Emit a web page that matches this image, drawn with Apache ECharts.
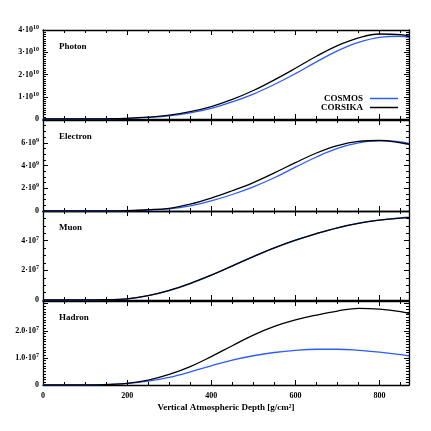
<!DOCTYPE html>
<html>
<head>
<meta charset="utf-8">
<script src="https://cdn.jsdelivr.net/npm/echarts@6/dist/echarts.min.js"></script>
<style>
  html, body { margin: 0; padding: 0; background: #fff; }
</style>
</head>
<body>
<div id="chart" style="width: 431px; height: 431px"></div>
<script>
// depth in g/cm^2
const depth = [0, 50, 100, 150, 200, 250, 300, 350, 400, 450, 500, 550, 600, 650, 700, 750, 800, 850, 870];

// Photon (x1e10)
const photonCorsika = [0, 0, 0, 0.01, 0.03, 0.08, 0.17, 0.33, 0.56, 0.88, 1.28, 1.76, 2.28, 2.82, 3.30, 3.65, 3.82, 3.79, 3.72];
const photonCosmos  = [0, 0, 0, 0.01, 0.03, 0.07, 0.14, 0.28, 0.48, 0.77, 1.12, 1.55, 2.04, 2.57, 3.06, 3.44, 3.67, 3.72, 3.66];

// Electron (x1e9)
const electronCorsika = [0, 0, 0, 0.01, 0.04, 0.11, 0.24, 0.60, 1.13, 1.78, 2.50, 3.35, 4.25, 5.10, 5.75, 6.12, 6.20, 6.00, 5.85];
const electronCosmos  = [0, 0, 0, 0.01, 0.03, 0.08, 0.18, 0.45, 0.89, 1.45, 2.12, 2.92, 3.85, 4.75, 5.50, 5.98, 6.18, 6.08, 5.95];

// Muon (x1e7)
const muonCorsika = [0, 0, 0, 0.02, 0.08, 0.30, 0.65, 1.12, 1.68, 2.30, 2.93, 3.52, 4.03, 4.48, 4.87, 5.17, 5.38, 5.52, 5.56];
const muonCosmos  = [0, 0, 0, 0.02, 0.08, 0.29, 0.64, 1.11, 1.67, 2.29, 2.92, 3.51, 4.02, 4.48, 4.87, 5.18, 5.39, 5.54, 5.58];

// Hadron (x1e7)
const hadronCorsika = [0, 0, 0, 0.01, 0.06, 0.18, 0.39, 0.68, 1.05, 1.45, 1.84, 2.16, 2.40, 2.58, 2.73, 2.83, 2.80, 2.71, 2.64];
const hadronCosmos  = [0, 0, 0, 0.02, 0.06, 0.14, 0.28, 0.48, 0.71, 0.92, 1.08, 1.20, 1.28, 1.32, 1.32, 1.28, 1.21, 1.12, 1.07];

const xTicks = [0, 200, 400, 600, 800];

const FONT = "Liberation Serif";
const BLUE = "#2b5cff";
const BLACK = "#000";

let myChart = echarts.init(document.getElementById("chart"));

// 每个面板: 名称, 指数, 纵轴最大值, 刻度间隔, 最大标注值
const panels = [
  { name: "Photon",   exp: 10, max: 4,   interval: 1, minor: 10, dec: 0, labelMax: 4, top: 30,  height: 89, corsika: photonCorsika, cosmos: photonCosmos },
  { name: "Electron", exp: 9,  max: 8,   interval: 2, minor: 4,  dec: 0, labelMax: 6, top: 120, height: 91, corsika: electronCorsika, cosmos: electronCosmos },
  { name: "Muon",     exp: 7,  max: 6,   interval: 2, minor: 4,  dec: 0, labelMax: 4, top: 211, height: 89, corsika: muonCorsika, cosmos: muonCosmos },
  { name: "Hadron",   exp: 7,  max: 3.1, interval: 1, minor: 10, dec: 1, labelMax: 2, top: 301, height: 84, corsika: hadronCorsika, cosmos: hadronCosmos },
];

const grids = [], xAxes = [], yAxes = [], series = [], titles = [];

const tickStyle = { color: BLACK, width: 1 };

panels.forEach((p, i) => {
  grids.push({ left: 43, right: 22, top: p.top, height: p.height });
  const last = i === panels.length - 1;

  // 下方x轴
  xAxes.push({
    type: "value", gridIndex: i, min: 0, max: 870, interval: 200,
    axisLine: { onZero: false, lineStyle: { color: BLACK, width: 1.3 } },
    axisTick: { show: true, inside: true, length: 5, lineStyle: tickStyle },
    minorTick: { show: true, splitNumber: 4, length: 3, lineStyle: tickStyle },
    splitLine: { show: false },
    axisLabel: {
      show: last, margin: 7, fontFamily: FONT, fontWeight: "bold", fontSize: 8, color: BLACK,
      formatter: (v) => (xTicks.indexOf(v) >= 0 ? String(v) : ""),
    },
    name: last ? "Vertical Atmospheric Depth [g/cm²]" : "",
    nameLocation: "middle", nameGap: 18,
    nameTextStyle: { fontFamily: FONT, fontWeight: "bold", fontSize: 9, color: BLACK },
  });
  // 上方x轴(只画刻度)
  xAxes.push({
    type: "value", gridIndex: i, position: "top", min: 0, max: 870, interval: 200,
    axisLine: { onZero: false, lineStyle: { color: BLACK, width: 1.3 } },
    axisTick: { show: true, inside: true, length: 5, lineStyle: tickStyle },
    minorTick: { show: true, splitNumber: 4, length: 3, lineStyle: tickStyle },
    splitLine: { show: false },
    axisLabel: { show: false },
  });

  const scale = Math.pow(10, p.exp);
  const labelFmt = (v) => {
    const m = v / scale;
    if (Math.abs(m) < 1e-9) return "0";
    if (Math.abs(m / p.interval - Math.round(m / p.interval)) > 1e-6) return "";
    if (m > p.labelMax + 1e-6) return "";
    return "{m|" + m.toFixed(p.dec) + "·10}{e|" + p.exp + "}";
  };

  // 左y轴
  yAxes.push({
    type: "value", gridIndex: i, min: 0, max: p.max * scale, interval: p.interval * scale,
    axisLine: { show: true, onZero: false, lineStyle: { color: BLACK, width: 1.3 } },
    axisTick: { show: true, inside: true, length: 5, lineStyle: tickStyle },
    minorTick: { show: true, splitNumber: p.minor, length: 3, lineStyle: tickStyle },
    splitLine: { show: false },
    axisLabel: {
      margin: 4, fontFamily: FONT, fontWeight: "bold", fontSize: 8, color: BLACK,
      formatter: labelFmt,
      rich: {
        m: { fontFamily: FONT, fontWeight: "bold", fontSize: 8, color: BLACK, lineHeight: 11 },
        e: { fontFamily: FONT, fontWeight: "bold", fontSize: 6, color: BLACK, verticalAlign: "top", lineHeight: 11 },
      },
    },
  });
  // 右y轴(只画刻度)
  yAxes.push({
    type: "value", gridIndex: i, position: "right", min: 0, max: p.max * scale, interval: p.interval * scale,
    axisLine: { show: true, onZero: false, lineStyle: { color: BLACK, width: 1.3 } },
    axisTick: { show: true, inside: true, length: 5, lineStyle: tickStyle },
    minorTick: { show: true, splitNumber: p.minor, length: 3, lineStyle: tickStyle },
    splitLine: { show: false },
    axisLabel: { show: false },
  });

  series.push({
    name: "COSMOS", type: "line", xAxisIndex: 2 * i, yAxisIndex: 2 * i,
    data: depth.map((d, k) => [d, p.cosmos[k] * scale]),
    symbol: "none", smooth: 0.4,
    lineStyle: { color: BLUE, width: 1.3 }, itemStyle: { color: BLUE },
  });
  series.push({
    name: "CORSIKA", type: "line", xAxisIndex: 2 * i, yAxisIndex: 2 * i,
    data: depth.map((d, k) => [d, p.corsika[k] * scale]),
    symbol: "none", smooth: 0.4,
    lineStyle: { color: BLACK, width: 1.3 }, itemStyle: { color: BLACK },
  });

  titles.push({
    text: p.name, left: 54, top: p.top + 7,
    textStyle: { fontFamily: FONT, fontWeight: "bold", fontSize: 9, color: BLACK },
  });
});

myChart.setOption({
  animation: false,
  title: titles,
  legend: {
    data: ["COSMOS", "CORSIKA"],
    orient: "vertical", align: "right", right: 33, top: 94, padding: 0,
    icon: "rect", itemWidth: 28, itemHeight: 1.5, itemGap: 0,
    textStyle: { fontFamily: FONT, fontWeight: "bold", fontSize: 9, color: BLACK, lineHeight: 8, padding: [0, 2, 0, 0] },
  },
  grid: grids,
  xAxis: xAxes,
  yAxis: yAxes,
  series: series,
});

window.addEventListener("resize", () => {
  myChart.resize();
});
</script>
</body>
</html>
